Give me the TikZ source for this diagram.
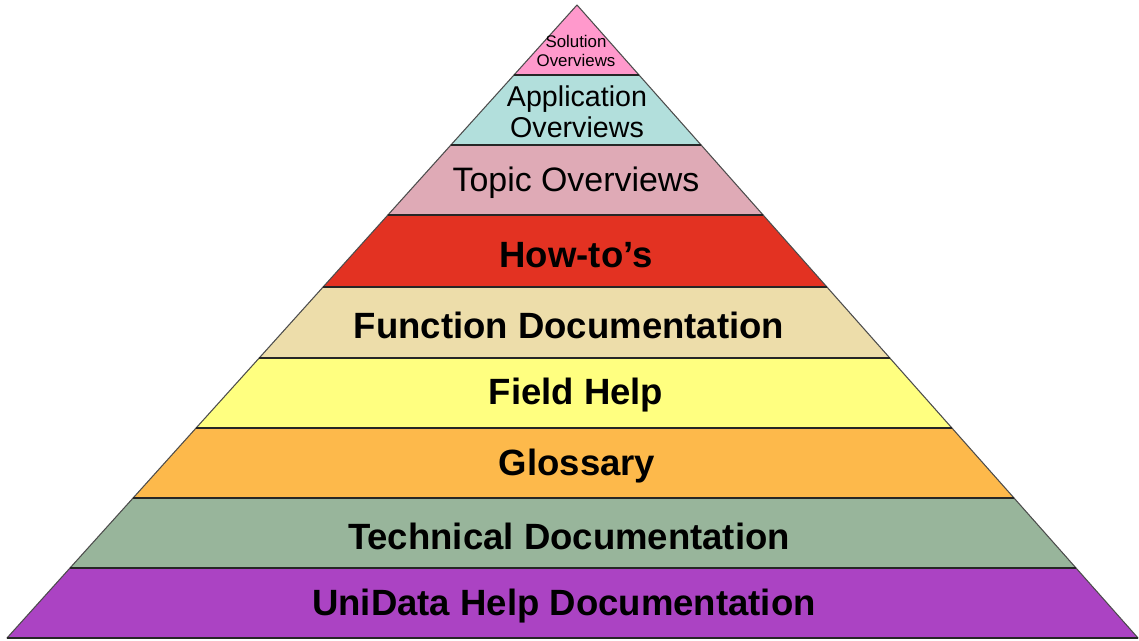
\documentclass[tikz,border=0pt]{standalone}
\usepackage{fontspec}
\setmainfont{Liberation Sans}
\usepackage{xcolor}
\definecolor{solutionpink}{HTML}{FF99CC}
\definecolor{appteal}{HTML}{B2DFDC}
\definecolor{topicrose}{HTML}{DFAAB6}
\definecolor{howtored}{HTML}{E33222}
\definecolor{functan}{HTML}{EDDDAA}
\definecolor{fieldyellow}{HTML}{FFFF80}
\definecolor{glossorange}{HTML}{FDB94B}
\definecolor{techgreen}{HTML}{98B59B}
\definecolor{unipurple}{HTML}{AB43C3}

\begin{document}
\begin{tikzpicture}[
  x=0.02cm, y=-0.02cm,
  layer/.style={draw=black!70, line width=0.6pt, line join=round},
  rule/.style={draw=black!85, line width=1.1pt},
  biglabel/.style={font=\fontsize{20.8pt}{24pt}\selectfont\bfseries, align=center},
  midlabel/.style={font=\fontsize{19.3pt}{22pt}\selectfont, align=center},
  smalllabel/.style={font=\fontsize{16.3pt}{17.6pt}\selectfont, align=center},
  tinylabel/.style={font=\fontsize{9.6pt}{10.8pt}\selectfont, align=center}
]
  \useasboundingbox (0,0) rectangle (1139,641);

  % Layers, top to bottom
  \filldraw[layer, fill=solutionpink] (577,5) -- (639,75) -- (514,75) -- cycle;
  \filldraw[layer, fill=appteal] (514,75) -- (639,75) -- (701.1,145) -- (450.9,145) -- cycle;
  \filldraw[layer, fill=topicrose] (450.9,145) -- (701.1,145) -- (763.1,215) -- (387.9,215) -- cycle;
  \filldraw[layer, fill=howtored] (387.9,215) -- (763.1,215) -- (826.9,287) -- (323.1,287) -- cycle;
  \filldraw[layer, fill=functan] (323.1,287) -- (826.9,287) -- (889.8,358) -- (259.2,358) -- cycle;
  \filldraw[layer, fill=fieldyellow] (259.2,358) -- (889.8,358) -- (951.9,428) -- (196.1,428) -- cycle;
  \filldraw[layer, fill=glossorange] (196.1,428) -- (951.9,428) -- (1014,498) -- (133.1,498) -- cycle;
  \filldraw[layer, fill=techgreen] (133.1,498) -- (1014,498) -- (1076,568) -- (70,568) -- cycle;
  \filldraw[layer, fill=unipurple] (70,568) -- (1076,568) -- (1138,638) -- (7,638) -- cycle;

  % Separators
  \draw[rule] (514,75) -- (639,75);
  \draw[rule] (450.9,145) -- (701.1,145);
  \draw[rule] (387.9,215) -- (763.1,215);
  \draw[rule] (323.1,287) -- (826.9,287);
  \draw[rule] (259.2,358) -- (889.8,358);
  \draw[rule] (196.1,428) -- (951.9,428);
  \draw[rule] (133.1,498) -- (1014,498);
  \draw[rule] (70,568) -- (1076,568);
  \draw[rule] (7,638) -- (1138,638);

  % Labels
  \node[tinylabel] (solution) at (576,51) {Solution\\Overviews};
  \node[smalllabel] (application) at (577,112) {Application\\Overviews};
  \node[midlabel] (topic) at (576,183) {Topic Overviews};
  \node[biglabel] (howto) at (576,255) {How-to’s};
  \node[biglabel] (function) at (569,325) {Function Documentation};
  \node[biglabel] (field) at (576,395) {Field Help};
  \node[biglabel] (glossary) at (577,466) {Glossary};
  \node[biglabel] (technical) at (569,536) {Technical Documentation};
  \node[biglabel] (unidata) at (564,606) {UniData Help Documentation};
\end{tikzpicture}
\end{document}
